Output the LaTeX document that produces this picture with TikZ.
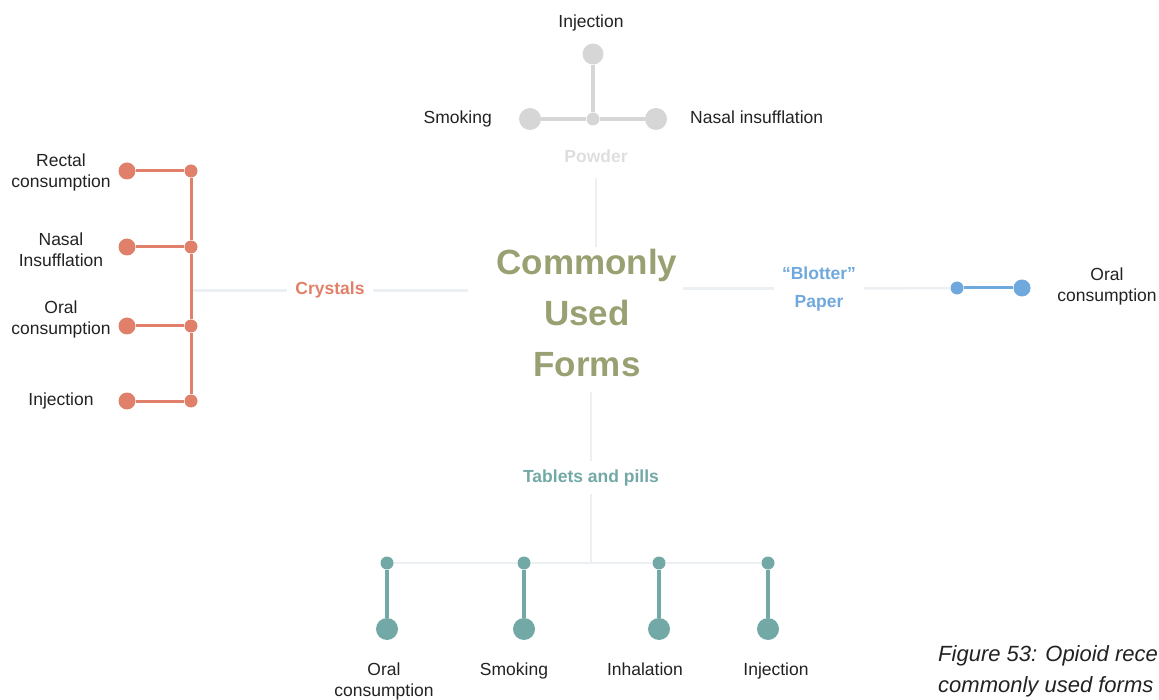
\documentclass[tikz,border=0pt]{standalone}
\usepackage{fontspec}
\setmainfont{Liberation Sans}
\usetikzlibrary{calc}
\definecolor{ink}{RGB}{34,34,34}
\definecolor{haze}{RGB}{237,240,243}
\definecolor{olive}{RGB}{153,160,114}
\definecolor{ash}{RGB}{214,214,214}
\definecolor{ashtext}{RGB}{222,222,222}
\definecolor{salmon}{RGB}{224,128,106}
\definecolor{sky}{RGB}{111,168,220}
\definecolor{teal}{RGB}{114,169,166}
\begin{document}
\begin{tikzpicture}[x=1pt, y=-1pt,
  way/.style={font=\fontsize{17.5}{21}\selectfont, text=ink, align=center, inner sep=0pt},
  form/.style={font=\bfseries\fontsize{17.5}{28}\selectfont, text=#1, align=center, inner sep=8pt},
  dot/.style 2 args={circle, fill=#1, inner sep=0pt, minimum size=#2},
  stem/.style={draw=#1, line width=3pt},
  faint/.style={draw=haze, line width=2.5pt}
]
\useasboundingbox (0,0) rectangle (1159,700);
\clip (0,0) rectangle (1159,700);

% centre
\node[font=\bfseries\fontsize{35}{51}\selectfont, text=olive, align=center, inner sep=0pt,
      minimum width=238pt, minimum height=132pt] (hub) at (587,313) {Commonly\\Used\\Forms};

% powder
\node[way, anchor=base] (pinjl) at (591,28) {Injection};
\node[way, anchor=base east] (psmokel) at (492,124) {Smoking};
\node[way, anchor=base west] (pnasall) at (690,124) {Nasal insufflation};
\node[dot={ash}{21pt}] (pinj) at (593,54) {};
\node[dot={ash}{13pt}] (pmid) at (593,119) {};
\node[dot={ash}{22pt}] (psmoke) at (530,119) {};
\node[dot={ash}{22pt}] (pnasal) at (656,119) {};
\node[form=ashtext, anchor=base] (powder) at (596,163) {Powder};

\draw[stem=ash, line width=4pt] (pinj) -- (pmid);
\draw[stem=ash, line width=4pt] (psmoke) -- (pmid);
\draw[stem=ash, line width=4pt] (pmid) -- (pnasal);
\draw[faint, shorten <=7pt] (powder) -- (powder |- hub.north);

% crystals
\node[form=salmon, anchor=base] (crystals) at (330,295) {Crystals};
\node[way, anchor=north] (cl1) at (61,154) {Rectal\\consumption};
\node[way, anchor=north] (cl2) at (61,233) {Nasal\\Insufflation};
\node[way, anchor=north] (cl3) at (61,301) {Oral\\consumption};
\node[way, anchor=base] (cl4) at (61,406) {Injection};
\foreach \i/\y in {1/171, 2/247, 3/326, 4/401} {
  \node[dot={salmon}{17pt}] (ce\i) at (127,\y) {};
  \node[dot={salmon}{13pt}] (cj\i) at (191,\y) {};
  \draw[stem=salmon] (ce\i) -- (cj\i);
}
\draw[stem=salmon] (cj1) -- (cj2);
\draw[stem=salmon] (cj2) -- (cj3);
\draw[stem=salmon] (cj3) -- (cj4);
\draw[faint, shorten >=1.5pt] (crystals.west) -- (crystals.west -| cj1.center);
\draw[faint] (crystals.east) -- (crystals.east -| hub.west);

% blotter paper
\node[form=sky] (blotter) at (819,288.5) {“Blotter”\\Paper};
\node[dot={sky}{13pt}] (bj) at (957,288) {};
\node[dot={sky}{17pt}] (be) at (1022,288) {};
\node[way, anchor=north] (bl) at (1107,268) {Oral\\consumption};
\draw[stem=sky] (bj) -- (be);
\draw[faint] (blotter.east) -- (bj);
\draw[faint] (blotter.west) -- ($(blotter.west -| hub.east)+(-23,0)$);

% tablets and pills
\node[form=teal, anchor=base] (tablets) at (591,482) {Tablets and pills};
\foreach \i/\x in {1/387, 2/524, 3/659, 4/768} {
  \node[dot={teal}{13pt}] (tj\i) at (\x,563) {};
  \node[dot={teal}{22pt}] (te\i) at (\x,629) {};
  \draw[stem=teal, line width=4pt] (tj\i) -- (te\i);
}
\node[way, anchor=north] (tl1) at (384,663) {Oral\\consumption};
\node[way, anchor=north] (tl2) at (514,663) {Smoking};
\node[way, anchor=north] (tl3) at (645,663) {Inhalation};
\node[way, anchor=north] (tl4) at (776,663) {Injection};
\draw[faint] (tj1) -- (tj2);
\draw[faint] (tj2) -- (tj3);
\draw[faint] (tj3) -- (tj4);
\draw[faint] ($(tablets.north |- hub.south)+(0,13)$) -- (tablets.north);
\draw[faint] (tablets.south) -- (tablets.south |- tj1.center);

% caption
\node[anchor=base west, align=left, font=\itshape\fontsize{22}{31}\selectfont, text=ink, inner sep=0pt]
  (caption) at (938,692) {Figure 53: Opioid rece\\commonly used forms};
\end{tikzpicture}
\end{document}
